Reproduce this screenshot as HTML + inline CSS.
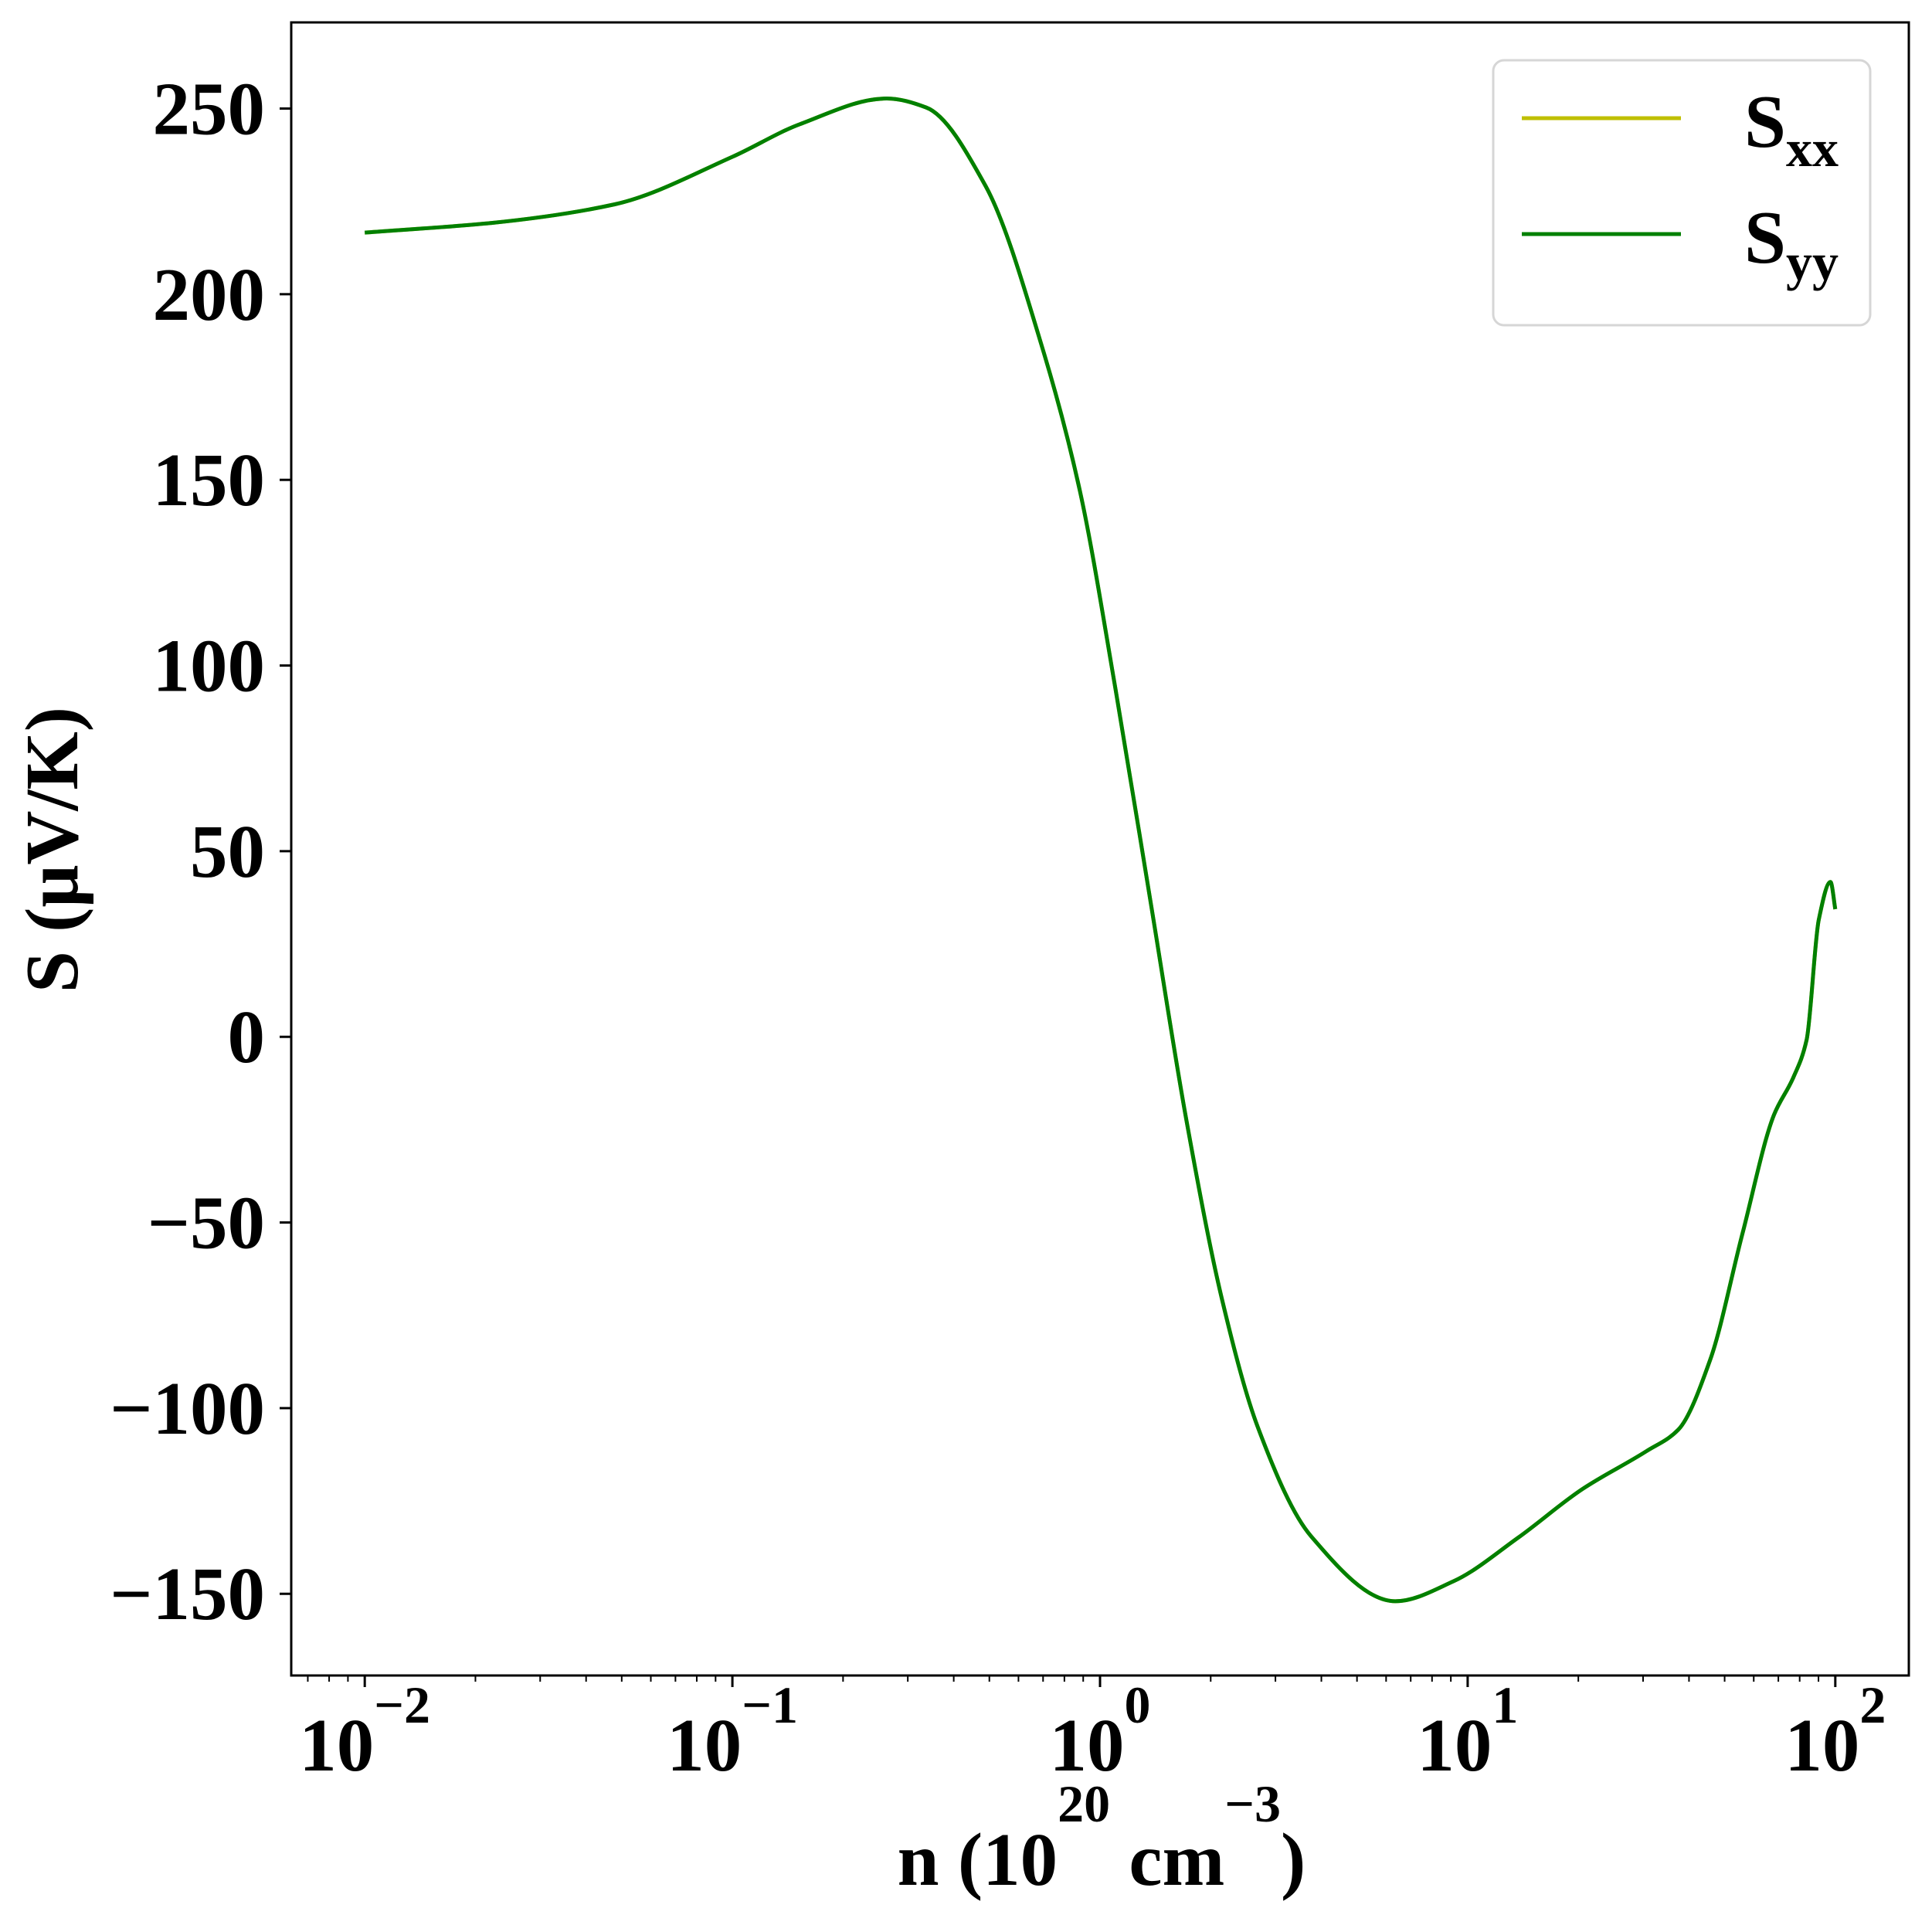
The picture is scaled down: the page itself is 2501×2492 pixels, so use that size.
<!DOCTYPE html>
<html><head><meta charset="utf-8"><style>
html,body{margin:0;padding:0;background:#fff;}
svg{display:block;}
text{font-family:"Liberation Serif","DejaVu Serif",serif;font-weight:bold;fill:#000;}
</style></head><body>
<svg id="chart" width="2501" height="2492" viewBox="0 0 2501 2492" xmlns="http://www.w3.org/2000/svg">
<rect x="0" y="0" width="2501" height="2492" fill="#fff"/>
<g id="plot"></g>
<g id="axes"></g>
<text transform="translate(100,1100) rotate(-90)" text-anchor="middle" font-size="97">S (μV/K)</text>
<text x="1426" y="2440" text-anchor="middle" font-size="97">n (10<tspan dy="-82" font-size="68">20</tspan><tspan dy="82"> cm</tspan><tspan dy="-82" font-size="68">−3</tspan><tspan dy="82">)</tspan></text>
<g>
<rect x="1933" y="78" width="488" height="343" rx="14" ry="14" fill="#fff" stroke="#d6d6d6" stroke-width="3"/>
<line x1="1970" y1="153" x2="2176" y2="153" stroke="#bfbf00" stroke-width="5"/>
<text x="2258" y="190" font-size="97">S<tspan dy="25" font-size="68">xx</tspan></text>
<line x1="1970" y1="303" x2="2176" y2="303" stroke="#008000" stroke-width="5"/>
<text x="2258" y="340" font-size="97">S<tspan dy="22" font-size="68">yy</tspan></text>
</g>
</svg>
<script>
const logN = [-2,-1.655,-1.32,-1,-0.816,-0.58,-0.473,-0.311,-0.152,-0.054,0.042,0.139,0.236,0.332,0.429,0.574,0.803,0.962,1.137,1.312,1.486,1.573,1.66,1.747,1.833,1.886,1.922,1.955,1.987,2.0];
const sxx = [216.6,219.2,224.2,237.0,245.8,252.7,250.3,229.1,183.9,146.7,93.7,35.4,-23.0,-70.8,-105.1,-134.5,-152.0,-146.6,-134.9,-121.8,-111.6,-105.8,-86.9,-53.2,-21.1,-10.9,-0.8,31.5,41.7,34.4];
const syy = [216.6,219.2,224.2,237.0,245.8,252.7,250.3,229.1,183.9,146.7,93.7,35.4,-23.0,-70.8,-105.1,-134.5,-152.0,-146.6,-134.9,-121.8,-111.6,-105.8,-86.9,-53.2,-21.1,-10.9,-0.8,31.5,41.7,34.4];
const yTicks = [-150,-100,-50,0,50,100,150,200,250];
const yTickLabels = ["−150","−100","−50","0","50","100","150","200","250"];
const xTicks = [-2,-1,0,1,2];
const xTickSup = ["−2","−1","0","1","2"];

const NS="http://www.w3.org/2000/svg";
const L=377,R=2471,T=29,B=2169;
const XMIN=-2.2,XMAX=2.2,YMIN=-172,YMAX=273.2;
function sx(v){return L+(v-XMIN)/(XMAX-XMIN)*(R-L);}
function sy(v){return B-(v-YMIN)/(YMAX-YMIN)*(B-T);}
function mk(tag,attrs,parent){const e=document.createElementNS(NS,tag);for(const k in attrs)e.setAttribute(k,attrs[k]);parent.appendChild(e);return e;}
function pathFor(xs,ys){
  const n=xs.length, X=xs.map(sx), Y=ys.map(sy);
  const h=[],dl=[];
  for(let i=0;i<n-1;i++){h.push(X[i+1]-X[i]);dl.push((Y[i+1]-Y[i])/h[i]);}
  const m=new Array(n);
  m[0]=dl[0];m[n-1]=dl[n-2];
  for(let i=1;i<n-1;i++){
    if(dl[i-1]*dl[i]<=0)m[i]=0;
    else{const w1=2*h[i]+h[i-1],w2=h[i]+2*h[i-1];m[i]=(w1+w2)/(w1/dl[i-1]+w2/dl[i]);}
  }
  let d="M"+X[0].toFixed(1)+","+Y[0].toFixed(1);
  for(let i=0;i<n-1;i++){
    const c1x=X[i]+h[i]/3,c1y=Y[i]+m[i]*h[i]/3,c2x=X[i+1]-h[i]/3,c2y=Y[i+1]-m[i+1]*h[i]/3;
    d+=" C"+c1x.toFixed(1)+","+c1y.toFixed(1)+" "+c2x.toFixed(1)+","+c2y.toFixed(1)+" "+X[i+1].toFixed(1)+","+Y[i+1].toFixed(1);
  }
  return d;
}
const plot=document.getElementById('plot');
const axes=document.getElementById('axes');
const lx=mk('path',{d:pathFor(logN,sxx),fill:'none',stroke:'#bfbf00','stroke-width':5},plot);


const ly=mk('path',{d:pathFor(logN,syy),fill:'none',stroke:'#008000','stroke-width':5},plot);


const fr=mk('rect',{x:L,y:T,width:R-L,height:B-T,fill:'none',stroke:'#000','stroke-width':3},axes);


yTicks.forEach((v,i)=>{
  const y=sy(v);
  const t=mk('line',{x1:L-15,y1:y,x2:L,y2:y,stroke:'#000','stroke-width':3},axes);
  
  
  const tx=mk('text',{x:L-34,y:y+33,'text-anchor':'end','font-size':97},axes);
  tx.textContent=yTickLabels[i];
  
  
});
xTicks.forEach((v,i)=>{
  const x=sx(v);
  const t=mk('line',{x1:x,y1:B,x2:x,y2:B+15,stroke:'#000','stroke-width':3},axes);
  
  
  const tx=mk('text',{x:x,y:2292,'text-anchor':'middle','font-size':97},axes);
  
  
  tx.appendChild(document.createTextNode('10'));
  const sp=document.createElementNS(NS,'tspan');
  sp.setAttribute('dy','-62');sp.setAttribute('font-size','68');
  sp.textContent=xTickSup[i];
  tx.appendChild(sp);
});
for(let d=-3;d<=2;d++){
  for(let m=2;m<=9;m++){
    const v=d+Math.log10(m);
    if(v<XMIN||v>XMAX)continue;
    const x=sx(v);
    const t=mk('line',{x1:x,y1:B,x2:x,y2:B+8,stroke:'#000','stroke-width':2},axes);
    
    
  }
}
</script>
</body></html>
